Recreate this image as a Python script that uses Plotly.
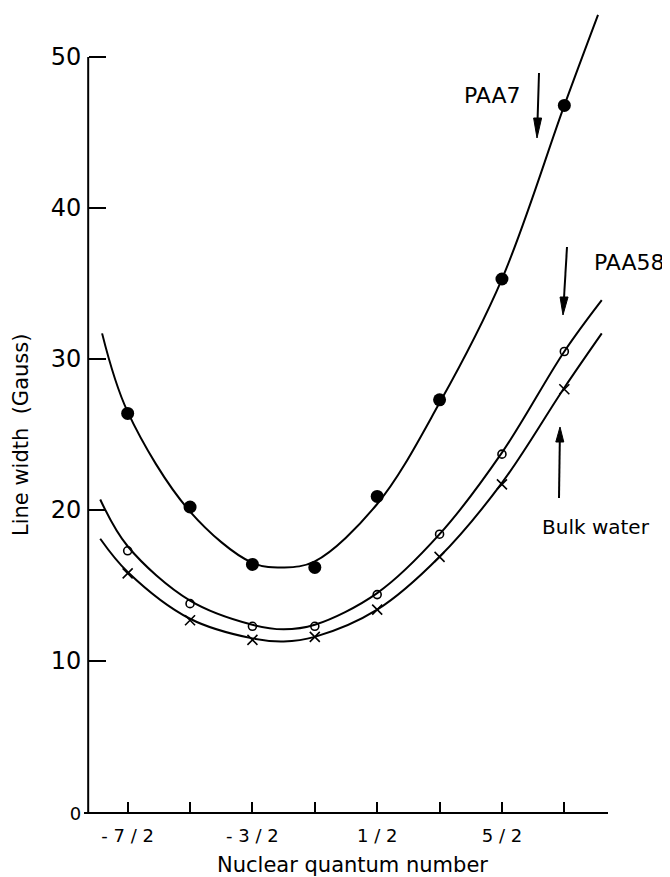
import plotly.graph_objects as go

# Nuclear quantum number positions (m_I)
m_values = [-3.5, -2.5, -1.5, -0.5, 0.5, 1.5, 2.5, 3.5]
x_tick_labels = ["- 7 / 2", "", "- 3 / 2", "", "1 / 2", "", "5 / 2", ""]

# Measured line widths (Gauss)
paa7 = [26.4, 20.2, 16.4, 16.2, 20.9, 27.3, 35.3, 46.8]
paa58 = [17.3, 13.8, 12.3, 12.3, 14.4, 18.4, 23.7, 30.5]
bulk_water = [15.8, 12.7, 11.4, 11.6, 13.4, 16.9, 21.7, 28.0]

# Hand-drawn smooth curves
paa7_curve_m = [-3.91, -3.5, -2.5, -1.5, -1.0, -0.5, 0.5, 1.5, 2.5, 3.5, 4.04]
paa7_curve_w = [31.7, 26.5, 19.9, 16.5, 16.2, 16.6, 20.4, 27.1, 35.3, 46.8, 52.8]
paa58_curve_m = [-3.94, -3.5, -2.5, -1.5, -1.0, -0.5, 0.5, 1.5, 2.5, 3.5, 4.10]
paa58_curve_w = [20.7, 17.6, 14.0, 12.4, 12.1, 12.4, 14.5, 18.4, 23.8, 30.5, 33.9]
bulk_curve_m = [-3.94, -3.5, -2.5, -1.5, -1.0, -0.5, 0.5, 1.5, 2.5, 3.5, 4.10]
bulk_curve_w = [18.1, 15.9, 12.8, 11.5, 11.3, 11.6, 13.4, 16.9, 21.8, 28.1, 31.7]

y_tick_vals = [0, 10, 20, 30, 40, 50]
y_tick_labels = ["0", "10", "20", "30", "40", "50"]

FONT = "DejaVu Sans"
INK = "black"

# the page body has an 8px margin, so the figure is drawn 8px in from the window corner
OFF = 8
W, H = 670 - OFF, 877 - OFF
L, R, T, B = 84 - OFF, 62, 0, 65
PW, PH = W - L - R, H - T - B


def px(x, y):
    """window pixel position -> paper coordinates"""
    return (x - OFF - L) / PW, (H - B - (y - OFF)) / PH


fig = go.Figure()

line_style = dict(color=INK, width=2, shape="spline", smoothing=1.0)
for cm, cw in [(paa7_curve_m, paa7_curve_w), (paa58_curve_m, paa58_curve_w), (bulk_curve_m, bulk_curve_w)]:
    fig.add_trace(go.Scatter(x=cm, y=cw, mode="lines", line=line_style, showlegend=False, hoverinfo="skip"))

fig.add_trace(go.Scatter(x=m_values, y=paa7, mode="markers", name="PAA7",
                         marker=dict(symbol="circle", size=13, color=INK), showlegend=False))
fig.add_trace(go.Scatter(x=m_values, y=paa58, mode="markers", name="PAA58",
                         marker=dict(symbol="circle-open", size=8, color=INK, line=dict(width=1.6)),
                         showlegend=False))
fig.add_trace(go.Scatter(x=m_values, y=bulk_water, mode="markers", name="Bulk water",
                         marker=dict(symbol="x-thin-open", size=10, color=INK, line=dict(width=1.6, color=INK)),
                         showlegend=False))

# y tick text: the "0" is printed smaller in the original
y_tick_text = [('<span style="font-size:18px">%s</span>' % t) if t == "0" else t for t in y_tick_labels]

fig.update_xaxes(range=[-4.2, 4.2], tickvals=m_values, ticktext=x_tick_labels,
                 ticks="inside", ticklen=10, tickwidth=2, tickcolor=INK,
                 showline=True, linecolor=INK, linewidth=2, showgrid=False, zeroline=False,
                 tickfont=dict(family=FONT, size=18, color=INK), ticklabelstandoff=6,
                 automargin=False)
fig.update_yaxes(range=[0, 53.25], tickvals=y_tick_vals, ticktext=y_tick_text,
                 ticks="inside", ticklen=17, tickwidth=2, tickcolor=INK,
                 showline=False, showgrid=False, zeroline=False,
                 anchor="free", position=0.008,
                 tickfont=dict(family=FONT, size=24, color=INK), ticklabelstandoff=7,
                 automargin=False)

# y axis spine only up to 50
fig.add_shape(type="line", xref="paper", yref="y", x0=0.008, x1=0.008, y0=0, y1=50,
              line=dict(color=INK, width=2))

# arrows: (tail x, tail y, head-base y, tip x, tip y) in window pixels
arrows = [
    (539, 73, 118, 537, 138),   # PAA7, pointing down
    (567, 247, 297, 563, 315),  # PAA58, pointing down
    (559, 498, 442, 560, 427),  # Bulk water, pointing up
]
for tx, ty, by, hx, hy in arrows:
    x0, y0 = px(tx, ty)
    bx = hx + (tx - hx) * (hy - by) / (hy - ty)
    x1, y1 = px(bx, by)
    fig.add_shape(type="line", xref="paper", yref="paper", x0=x0, y0=y0, x1=x1, y1=y1,
                  line=dict(color=INK, width=2))
    a = px(bx - 4, by)
    b = px(bx + 4, by)
    c = px(hx, hy)
    path = "M %f %f L %f %f L %f %f Z" % (a[0], a[1], b[0], b[1], c[0], c[1])
    fig.add_shape(type="path", xref="paper", yref="paper", path=path,
                  fillcolor=INK, line=dict(color=INK, width=1))

ann_font = dict(family=FONT, size=22, color=INK)
common = dict(xref="paper", yref="paper", showarrow=False, xanchor="center", yanchor="middle")
annotations = [
    dict(text="PAA7", x=px(492, 95)[0], y=px(492, 95)[1], font=ann_font, **common),
    dict(text="PAA58", x=px(629, 263)[0], y=px(629, 263)[1], font=ann_font, **common),
    dict(text="Bulk water", x=px(596, 527)[0], y=px(596, 527)[1],
         font=dict(family=FONT, size=20, color=INK), **common),
    dict(text="Line width  (Gauss)", x=px(21, 435)[0], y=px(21, 435)[1], textangle=-90,
         font=dict(family=FONT, size=21, color=INK), **common),
    dict(text="Nuclear quantum number", x=px(352, 865)[0], y=px(352, 865)[1],
         font=dict(family=FONT, size=21, color=INK), **common),
]
fig.update_layout(annotations=annotations)

fig.update_layout(width=W, height=H, margin=dict(l=L, r=R, t=T, b=B, autoexpand=False),
                  plot_bgcolor="white", paper_bgcolor="white", showlegend=False)

fig.write_html("out.html")
